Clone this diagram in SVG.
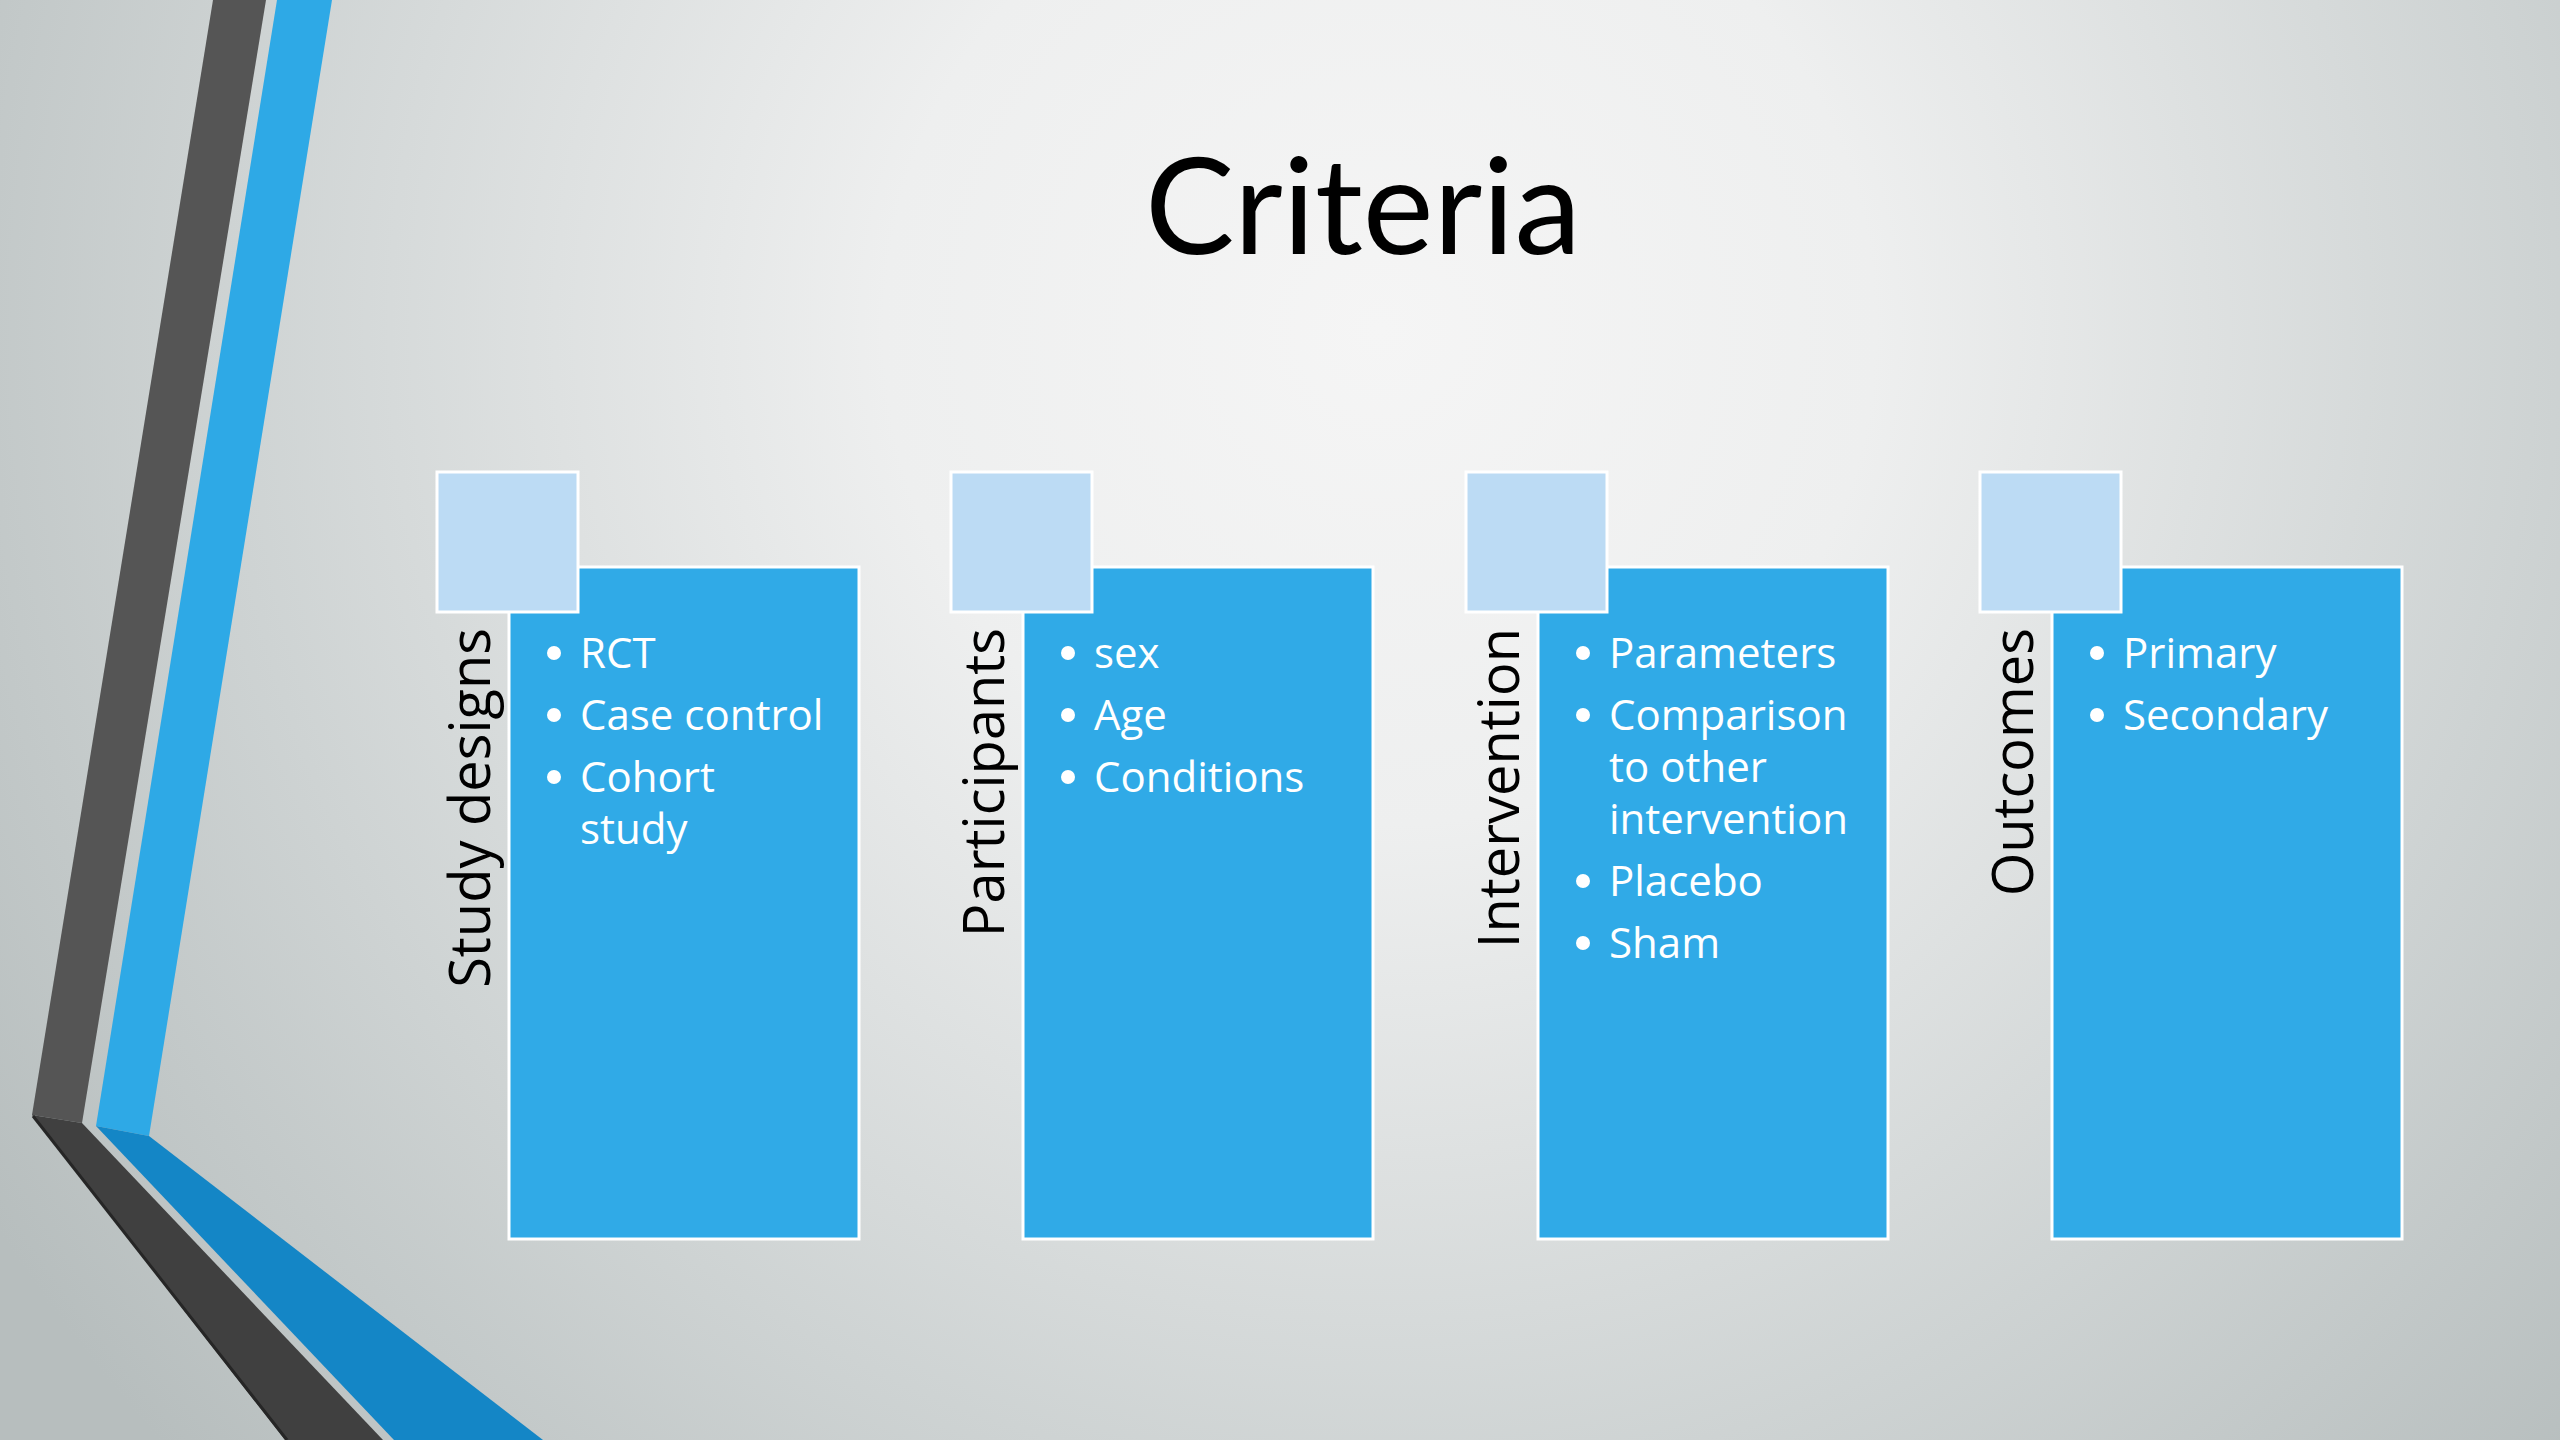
<svg xmlns="http://www.w3.org/2000/svg" width="2560" height="1440" viewBox="0 0 2560 1440">
  <defs>
    <radialGradient id="bg" cx="1380" cy="330" r="1650" gradientUnits="userSpaceOnUse">
      <stop offset="0" stop-color="#F5F5F5"/>
      <stop offset="0.3" stop-color="#EEEFEF"/>
      <stop offset="0.7" stop-color="#CED3D3"/>
      <stop offset="1" stop-color="#B7BEBE"/>
    </radialGradient>
    <style>
      .title { font-family: Lato, "Open Sans", sans-serif; font-size: 134px; fill: #000; }
      .label { font-family: "Open Sans", "Noto Sans", sans-serif; font-size: 56px; fill: #000; }
      .item { font-family: "Open Sans", "Noto Sans", sans-serif; font-size: 42px; fill: #FFFFFF; }
      .dot { fill: #FFFFFF; }
      .box { fill: #30AAE7; stroke: #FFFFFF; stroke-width: 3; }
      .sq { fill: #BCDBF4; stroke: #FFFFFF; stroke-width: 3; }
    </style>
  </defs>

  <rect x="0" y="0" width="2560" height="1440" fill="url(#bg)"/>

  <g id="decoration">
    <polygon points="213,0 266,0 82,1123 32,1115" fill="#555555"/>
    <polygon points="277,0 332,0 149,1136 96,1126" fill="#2EA9E6"/>
    <polygon points="32,1115 82,1123 383,1440 285,1440" fill="#404040"/>
    <line x1="33" y1="1116" x2="287" y2="1440" stroke="#262626" stroke-width="3"/>
    <polygon points="96,1126 149,1136 543,1440 394,1440" fill="#1486C6"/>
  </g>

  <g id="title">
    <text class="title" x="1363" y="254" text-anchor="middle">Criteria</text>
  </g>

  <g id="connectors"/>

  <g id="node-study-designs">
    <rect class="box" x="509" y="567" width="350" height="672"/>
    <rect class="sq" x="437" y="472" width="141" height="140"/>
    <text class="label" transform="translate(490,628) rotate(-90)" text-anchor="end">Study designs</text>
    <circle class="dot" cx="554" cy="653" r="7"/>
    <text class="item" x="580" y="668">RCT</text>
    <circle class="dot" cx="554" cy="715" r="7"/>
    <text class="item" x="580" y="730">Case control</text>
    <circle class="dot" cx="554" cy="777" r="7"/>
    <text class="item" x="580" y="792">Cohort</text>
    <text class="item" x="580" y="844">study</text>
  </g>

  <g id="node-participants">
    <rect class="box" x="1023" y="567" width="350" height="672"/>
    <rect class="sq" x="951" y="472" width="141" height="140"/>
    <text class="label" transform="translate(1004,628) rotate(-90)" text-anchor="end">Participants</text>
    <circle class="dot" cx="1068" cy="653" r="7"/>
    <text class="item" x="1094" y="668">sex</text>
    <circle class="dot" cx="1068" cy="715" r="7"/>
    <text class="item" x="1094" y="730">Age</text>
    <circle class="dot" cx="1068" cy="777" r="7"/>
    <text class="item" x="1094" y="792">Conditions</text>
  </g>

  <g id="node-intervention">
    <rect class="box" x="1538" y="567" width="350" height="672"/>
    <rect class="sq" x="1466" y="472" width="141" height="140"/>
    <text class="label" transform="translate(1519,628) rotate(-90)" text-anchor="end">Intervention</text>
    <circle class="dot" cx="1583" cy="653" r="7"/>
    <text class="item" x="1609" y="668">Parameters</text>
    <circle class="dot" cx="1583" cy="715" r="7"/>
    <text class="item" x="1609" y="730">Comparison</text>
    <text class="item" x="1609" y="782">to other</text>
    <text class="item" x="1609" y="834">intervention</text>
    <circle class="dot" cx="1583" cy="881" r="7"/>
    <text class="item" x="1609" y="896">Placebo</text>
    <circle class="dot" cx="1583" cy="943" r="7"/>
    <text class="item" x="1609" y="958">Sham</text>
  </g>

  <g id="node-outcomes">
    <rect class="box" x="2052" y="567" width="350" height="672"/>
    <rect class="sq" x="1980" y="472" width="141" height="140"/>
    <text class="label" transform="translate(2033,628) rotate(-90)" text-anchor="end">Outcomes</text>
    <circle class="dot" cx="2097" cy="653" r="7"/>
    <text class="item" x="2123" y="668">Primary</text>
    <circle class="dot" cx="2097" cy="715" r="7"/>
    <text class="item" x="2123" y="730">Secondary</text>
  </g>
</svg>
